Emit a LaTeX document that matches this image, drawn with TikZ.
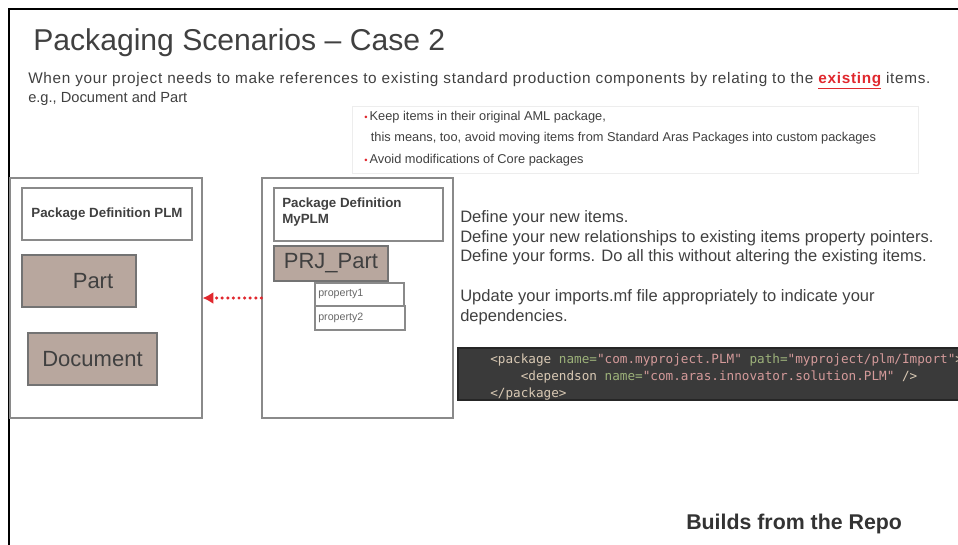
\documentclass[tikz,border=0pt]{standalone}
\usepackage{fontspec}
\setmainfont{Liberation Sans}
\setmonofont{DejaVu Sans Mono}
\usepackage{tikz}
\usetikzlibrary{arrows.meta, positioning, fit}
\definecolor{slidegray}{HTML}{404040}
\definecolor{itembrown}{HTML}{B8A79E}
\definecolor{framegray}{HTML}{8A8A8A}
\definecolor{arasred}{HTML}{E0282E}
\definecolor{codebg}{HTML}{3A3A3A}
\definecolor{codetag}{HTML}{D9C9B4}
\definecolor{codeattr}{HTML}{9DB27A}
\definecolor{codeval}{HTML}{D49A9A}

\begin{document}
\begin{tikzpicture}[x=0.75pt, y=-0.75pt,
    pkgframe/.style={draw=framegray, line width=0.9pt, inner sep=0pt},
    pkghead/.style={draw=framegray, line width=0.9pt, inner sep=0pt},
    headtext/.style={inner sep=0pt, text=slidegray, font=\fontsize{10}{12}\selectfont\bfseries},
    itembox/.style={draw=black!55, fill=itembrown, line width=0.9pt, inner sep=0pt},
    itemtext/.style={inner sep=0pt, text=slidegray, font=\fontsize{16.5}{18}\selectfont},
    propbox/.style={draw=framegray, line width=0.8pt, inner sep=0pt},
    proptext/.style={anchor=west, inner sep=0pt, text=black!60, font=\fontsize{8}{9}\selectfont},
    body/.style={anchor=base west, inner sep=0pt, text=slidegray, font=\fontsize{11}{13}\selectfont},
]
    \clip (0,0) rectangle (958,544);

    % Slide frame
    \draw[line width=2.2pt] (9,550) -- (9,9) -- (965,9);

    % Heading and intro
    \node[body, font=\fontsize{22.6}{26}\selectfont, text=black!75] (title) at (33,50) {Packaging Scenarios -- Case 2};
    \node[body, font=\fontsize{11.5}{13}\selectfont\addfontfeature{LetterSpace=4.5}] (intro) at (28,83) {When your project needs to make references to existing standard production components by relating to the \textcolor{arasred}{\bfseries\underline{existing}} items.};
    \node[body] (eg) at (28,102) {e.g., Document and Part};

    % Guidelines
    \node[draw=black!7, fill=white, inner sep=0pt, fit={(352,106) (918,173)}] (tips) {};
    \node[body, font=\fontsize{9.6}{15.75}\selectfont, align=left, anchor=north west] (tiptext) at (364,111) {%
        {\color{arasred}\scriptsize\textbullet}\,Keep items in their original AML package,\\
        \hspace{5pt}this means, too, avoid moving items from Standard Aras Packages into custom packages\\[1pt]
        {\color{arasred}\scriptsize\textbullet}\,Avoid modifications of Core packages};

    % Package PLM
    \node[pkgframe, fit={(10,178) (202,418)}] (plm) {};
    \node[pkghead, fit={(22,188) (192,240)}] (plmhead) {};
    \node[headtext] (plmtitle) at (plmhead.center) {Package Definition PLM};
    \node[itembox, fit={(22,255) (136,307)}] (part) {};
    \node[itemtext] (parttext) at (93,281) {Part};
    \node[itembox, fit={(28,333) (157,385)}] (document) {};
    \node[itemtext] (documenttext) at (document.center) {Document};

    % Package MyPLM
    \node[pkgframe, fit={(262,178) (453,418)}] (myplm) {};
    \node[pkghead, fit={(274,188) (443,241)}] (myplmhead) {};
    \node[headtext, anchor=north west, align=left] (myplmtitle) at (282,198) {Package Definition\\MyPLM};
    \node[itembox, fit={(274,246) (388,281)}] (prjpart) {};
    \node[itemtext] (prjparttext) at (prjpart.center) {PRJ\_Part};
    \node[propbox, fit={(315,283) (404,306)}] (prop1) {};
    \node[propbox, fit={(315,306) (405,330)}] (prop2) {};
    \node[proptext] (prop1text) at (318,294) {property1};
    \node[proptext] (prop2text) at (318,318) {property2};

    % Reference arrow
    \draw[arasred, line width=2.6pt, line cap=round, dash pattern=on 0pt off 4.2pt,
          -{Latex[length=8pt, width=9pt]}] (myplm) -- (plm);

    % Explanation
    \node[body, font=\fontsize{12.4}{14.9}\selectfont, align=left, anchor=north west] (steps) at (460,210) {%
        Define your new items.\\
        Define your new relationships to existing items property pointers.\\
        Define your forms. Do all this without altering the existing items.\\[14.9pt]
        Update your imports.mf file appropriately to indicate your\\
        dependencies.};

    % Import snippet
    \node[fill=codebg, draw=black!85, line width=0.9pt, inner sep=0pt, fit={(458,348) (970,400)}] (codebox) {};
    \node[body, font=\fontsize{9.5}{12.75}\selectfont\ttfamily, align=left, anchor=north west] (code) at (490,354) {%
        \textcolor{codetag}{<package} \textcolor{codeattr}{name=}\textcolor{codeval}{"com.myproject.PLM"} \textcolor{codeattr}{path=}\textcolor{codeval}{"myproject/plm/Import"}\textcolor{codetag}{>}\\
        \textcolor{codetag}{\ \ \ \ <dependson} \textcolor{codeattr}{name=}\textcolor{codeval}{"com.aras.innovator.solution.PLM"} \textcolor{codetag}{/>}\\
        \textcolor{codetag}{</package>}};

    % Footer
    \node[body, font=\fontsize{16}{19}\selectfont\bfseries, text=black!80] (footer) at (686,529) {Builds from the Repo};
\end{tikzpicture}
\end{document}
